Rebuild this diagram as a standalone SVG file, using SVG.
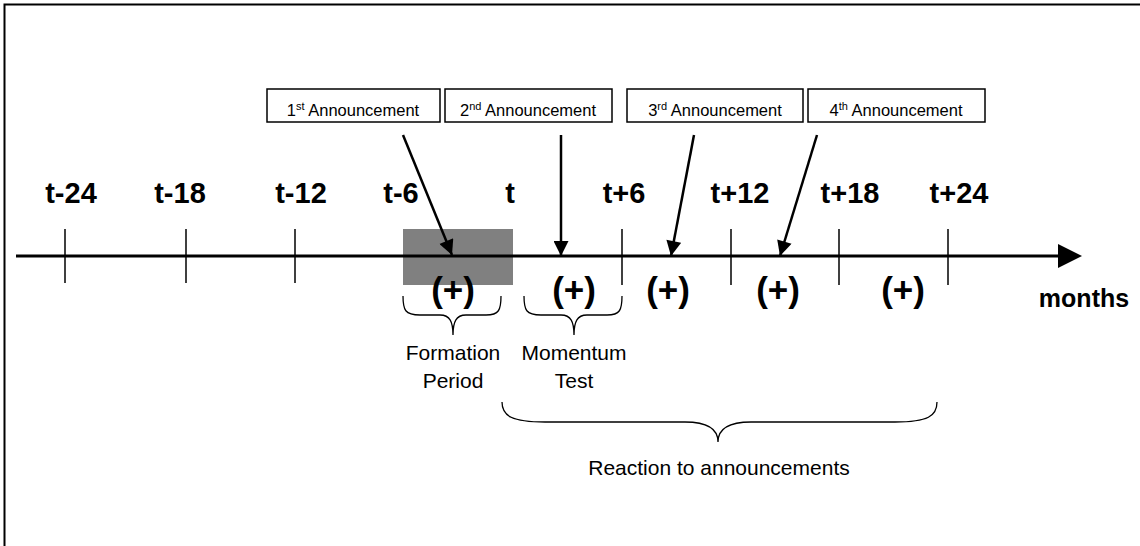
<svg xmlns="http://www.w3.org/2000/svg" width="1140" height="546" viewBox="0 0 1140 546">
<style>
.lbl{font-family:"Liberation Sans",Arial,sans-serif;font-weight:bold;font-size:29px;fill:#000;text-anchor:middle}
.pl{font-family:"Liberation Sans",Arial,sans-serif;font-weight:bold;font-size:35px;fill:#000;text-anchor:middle}
.txt{font-family:"Liberation Sans",Arial,sans-serif;font-size:21px;fill:#000;text-anchor:middle}
.ann{font-family:"Liberation Sans",Arial,sans-serif;font-size:16.5px;fill:#000;text-anchor:middle}
.sup{font-size:11px}
.box{fill:#fff;stroke:#000;stroke-width:1.5}
.tick{stroke:#000;stroke-width:1.5}
.arr{stroke:#000;stroke-width:2.5;fill:none}
.brace{stroke:#000;stroke-width:1.3;fill:none}
</style>
<defs>
<marker id="ah" viewBox="0 0 10 10" refX="10" refY="5" markerWidth="6.5" markerHeight="6" markerUnits="strokeWidth" orient="auto">
<path d="M0,0 L10,5 L0,10 z" fill="#000"/>
</marker>
</defs>
<rect width="1140" height="546" fill="#fff"/>
<path d="M4.5,546 V4.5 H1140" fill="none" stroke="#000" stroke-width="2"/>
<g id="period">
<rect x="403" y="229" width="110" height="56" fill="#808080"/>
</g>
<g id="axis">
<line x1="16" y1="256" x2="1060" y2="256" stroke="#000" stroke-width="3"/>
<path d="M1058,244 L1082,256 L1058,268 z" fill="#000"/>
<line class="tick" x1="65" y1="229" x2="65" y2="283"/>
<line class="tick" x1="186" y1="229" x2="186" y2="283"/>
<line class="tick" x1="295" y1="229" x2="295" y2="283"/>
<line class="tick" x1="622" y1="229" x2="622" y2="285"/>
<line class="tick" x1="731" y1="229" x2="731" y2="285"/>
<line class="tick" x1="839" y1="229" x2="839" y2="285"/>
<line class="tick" x1="948" y1="229" x2="948" y2="285"/>
<text class="lbl" x="71" y="203">t-24</text>
<text class="lbl" x="180" y="203">t-18</text>
<text class="lbl" x="301" y="203">t-12</text>
<text class="lbl" x="401" y="203">t-6</text>
<text class="lbl" x="510" y="203">t</text>
<text class="lbl" x="624" y="203">t+6</text>
<text class="lbl" x="740" y="203">t+12</text>
<text class="lbl" x="850" y="203">t+18</text>
<text class="lbl" x="959" y="203">t+24</text>
<text class="pl" x="453" y="302">(+)</text>
<text class="pl" x="574" y="302">(+)</text>
<text class="pl" x="668" y="302">(+)</text>
<text class="pl" x="778" y="302">(+)</text>
<text class="pl" x="903" y="302">(+)</text>
<text class="lbl" x="1084" y="307" style="font-size:25px">months</text>
</g>
<g id="ann1">
<rect class="box" x="267" y="89" width="173" height="33"/>
<text class="ann" x="353" y="116">1<tspan class="sup" dy="-6">st</tspan><tspan dy="6"> Announcement</tspan></text>
</g>
<g id="ann2">
<rect class="box" x="445" y="89" width="167" height="33"/>
<text class="ann" x="528" y="116">2<tspan class="sup" dy="-6">nd</tspan><tspan dy="6"> Announcement</tspan></text>
</g>
<g id="ann3">
<rect class="box" x="627" y="89" width="176" height="33"/>
<text class="ann" x="715" y="116">3<tspan class="sup" dy="-6">rd</tspan><tspan dy="6"> Announcement</tspan></text>
</g>
<g id="ann4">
<rect class="box" x="808" y="89" width="177" height="33"/>
<text class="ann" x="896" y="116">4<tspan class="sup" dy="-6">th</tspan><tspan dy="6"> Announcement</tspan></text>
</g>
<g id="connectors">
<line class="arr" x1="403" y1="135" x2="452" y2="255" marker-end="url(#ah)"/>
<line class="arr" x1="561" y1="135" x2="561" y2="256" marker-end="url(#ah)"/>
<line class="arr" x1="694" y1="135" x2="671" y2="256" marker-end="url(#ah)"/>
<line class="arr" x1="817" y1="135" x2="780" y2="256" marker-end="url(#ah)"/>
</g>
<g id="formation">
<path class="brace" d="M403,296 C403,310 405,315 420,315 L440,315 C450,315 453,322 453,335 C453,322 456,315 466,315 L486,315 C499,315 501,310 501,296"/>
<text class="txt" x="453" y="360">Formation</text>
<text class="txt" x="453" y="388">Period</text>
</g>
<g id="momentum">
<path class="brace" d="M524,296 C524,310 526,315 541,315 L561,315 C571,315 574,322 574,335 C574,322 577,315 587,315 L607,315 C620,315 622,310 622,296"/>
<text class="txt" x="574" y="360">Momentum</text>
<text class="txt" x="574" y="388">Test</text>
</g>
<g id="reaction">
<path class="brace" d="M502,402 C502,416 512,422 545,422 L685,422 C710,422 718,430 718,442 C718,430 726,422 751,422 L895,422 C928,422 937,416 937,402"/>
<text class="txt" x="719" y="475">Reaction to announcements</text>
</g>
</svg>
